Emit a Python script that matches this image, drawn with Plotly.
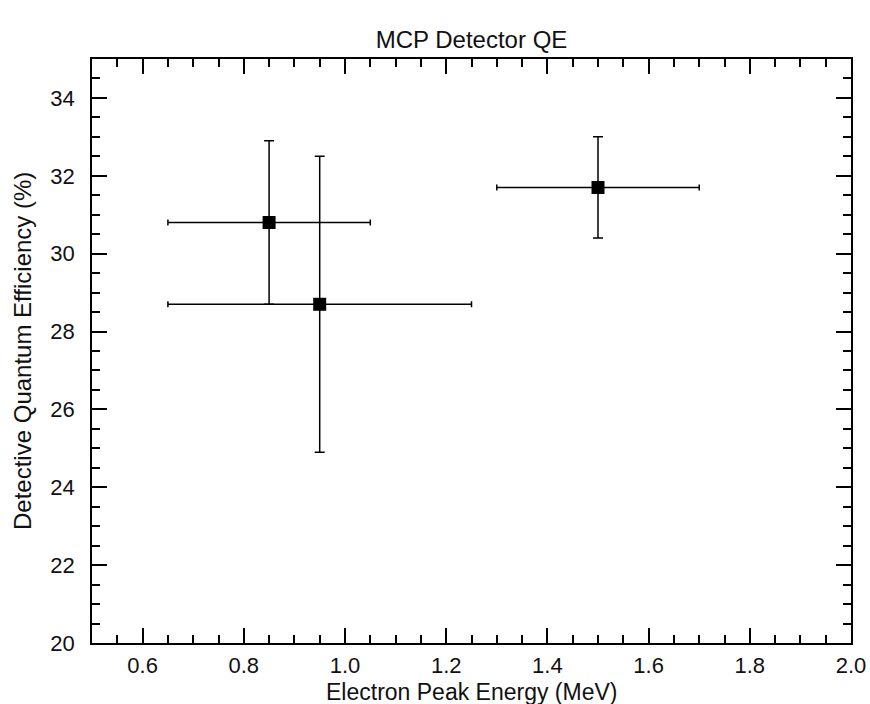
import plotly.graph_objects as go

energy = [0.85, 0.95, 1.5]
qe = [30.8, 28.7, 31.7]
energy_err = [0.2, 0.3, 0.2]
qe_err = [2.1, 3.8, 1.3]

x_ticks = [0.6, 0.8, 1.0, 1.2, 1.4, 1.6, 1.8, 2.0]
x_labels = ["0.6", "0.8", "1.0", "1.2", "1.4", "1.6", "1.8", "2.0"]
y_ticks = [20, 22, 24, 26, 28, 30, 32, 34]

W, H = 870, 704
ML, MR, MT, MB = 92, 19, 59, 61
PW, PH = W - ML - MR, H - MT - MB

fig = go.Figure()
fig.add_trace(go.Scatter(
    x=energy, y=qe, mode="markers",
    marker=dict(symbol="square", size=13, color="black"),
    error_x=dict(type="data", array=energy_err, color="black", thickness=1.5, width=3),
    error_y=dict(type="data", array=qe_err, color="black", thickness=1.5, width=5),
    showlegend=False,
))

font = "Liberation Sans, Arial, Helvetica, sans-serif"
axis_common = dict(
    showline=True, linecolor="black", linewidth=1.5, mirror="ticks",
    ticks="inside", ticklen=15, tickwidth=1.5, tickcolor="black",
    showgrid=False, zeroline=False, automargin=False,
    tickfont=dict(family=font, size=22, color="#111"),
)

fig.update_layout(
    width=W, height=H,
    margin=dict(l=ML, r=MR, t=MT, b=MB),
    paper_bgcolor="white", plot_bgcolor="white",
    title=dict(text="MCP Detector QE", x=0.5, xanchor="center", xref="paper",
               y=1 - 40 / H, yanchor="middle",
               font=dict(family=font, size=24, color="#111")),
    xaxis=dict(
        range=[0.5, 2.0], tickvals=x_ticks, ticktext=x_labels,
        minor=dict(dtick=0.05, tick0=0.5, ticks="inside", ticklen=8, tickwidth=1.5, tickcolor="black"),
        ticklabelstandoff=2,
        **axis_common,
    ),
    yaxis=dict(
        range=[20, 35], tickvals=y_ticks,
        minor=dict(dtick=0.5, tick0=20, ticks="inside", ticklen=8, tickwidth=1.5, tickcolor="black"),
        ticklabelstandoff=11,
        **axis_common,
    ),
    annotations=[
        dict(text="Electron Peak Energy (MeV)", xref="paper", yref="paper",
             x=0.5, y=-49 / PH, xanchor="center", yanchor="middle",
             showarrow=False, font=dict(family=font, size=23, color="#111")),
        dict(text="Detective Quantum Efficiency (%)", xref="paper", yref="paper",
             x=-70 / PW, y=0.5, xanchor="center", yanchor="middle", textangle=-90,
             showarrow=False, font=dict(family=font, size=24, color="#111")),
    ],
)

fig.write_html(
    "out.html",
    config={"displayModeBar": False},
    post_script="document.body.style.margin='0';document.body.style.overflow='hidden';",
)
